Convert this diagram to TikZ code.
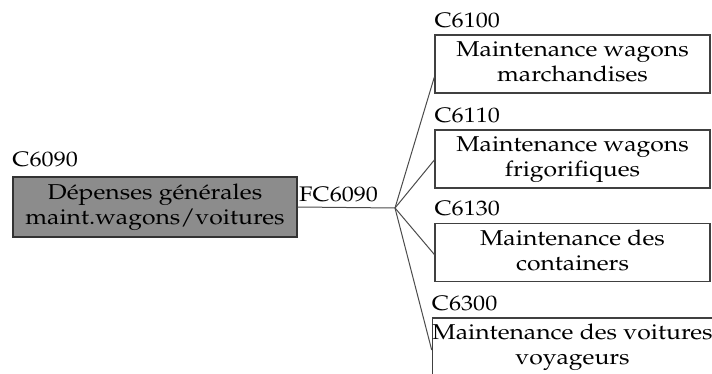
\documentclass[tikz,border=0pt]{standalone}
\usepackage[T1]{fontenc}
\usepackage{mathpazo}
\newcommand{\stx}[1]{\scalebox{1.15}[1]{#1}}
\newcommand{\twol}[2]{\stx{\begin{tabular}{@{}c@{}}#1\\[-1pt]#2\end{tabular}}}
\tikzset{
  lbl/.style={inner sep=0pt, font=\fontsize{21}{26}\selectfont, text=black},
  gbox/.style={draw=black!80, line width=1.4pt, fill=black!45, minimum width=284pt, minimum height=60pt, inner sep=0pt, font=\fontsize{21.5}{26}\selectfont, text=black},
  wbox/.style={draw=black!75, line width=1.3pt, fill=white, minimum width=275pt, minimum height=58pt, inner sep=0pt, font=\fontsize{21.5}{26}\selectfont, text=black},
  conn/.style={draw=black!70, line width=1pt}
}
\begin{document}
\begin{tikzpicture}[x=1pt,y=-1pt]
\useasboundingbox[fill=white] (0,0) rectangle (712,374);
% left box
\node[gbox] (g) at (155,207) {\twol{D\'epenses g\'en\'erales}{maint.wagons/voitures}};
\node[lbl, anchor=base west] (lg) at ([yshift=10pt]g.north west) {\stx{C6090}};
\node[lbl, anchor=base west] (fc) at (299,202) {\stx{FC6090}};
% right boxes
\node[wbox] (b1) at (572.5,64) {\twol{Maintenance wagons}{marchandises}};
\node[wbox] (b2) at (572.5,159) {\twol{Maintenance wagons}{frigorifiques}};
\node[wbox] (b3) at (572.5,252.5) {\twol{Maintenance des}{containers}};
\node[wbox] (b4) at (572.5,347) {\twol{Maintenance des voitures}{voyageurs}};
\node[lbl, anchor=base west] (l1) at ([yshift=7pt]b1.north west) {\stx{C6100}};
\node[lbl, anchor=base west] (l2) at ([yshift=7pt]b2.north west) {\stx{C6110}};
\node[lbl, anchor=base west] (l3) at ([yshift=7pt]b3.north west) {\stx{C6130}};
\node[lbl, anchor=base west] (l4) at ([yshift=7pt]b4.north west) {\stx{C6300}};
% connectors
\coordinate (fan) at (395,208);
\draw[conn] (g.east) -- (fan);
\draw[conn] (fan) -- ([yshift=-13pt]b1.west);
\draw[conn] (fan) -- ([yshift=-1pt]b2.west);
\draw[conn] (fan) -- ([yshift=-2pt]b3.west);
\draw[conn] (fan) -- ([yshift=-3pt]b4.west);
\end{tikzpicture}
\end{document}
